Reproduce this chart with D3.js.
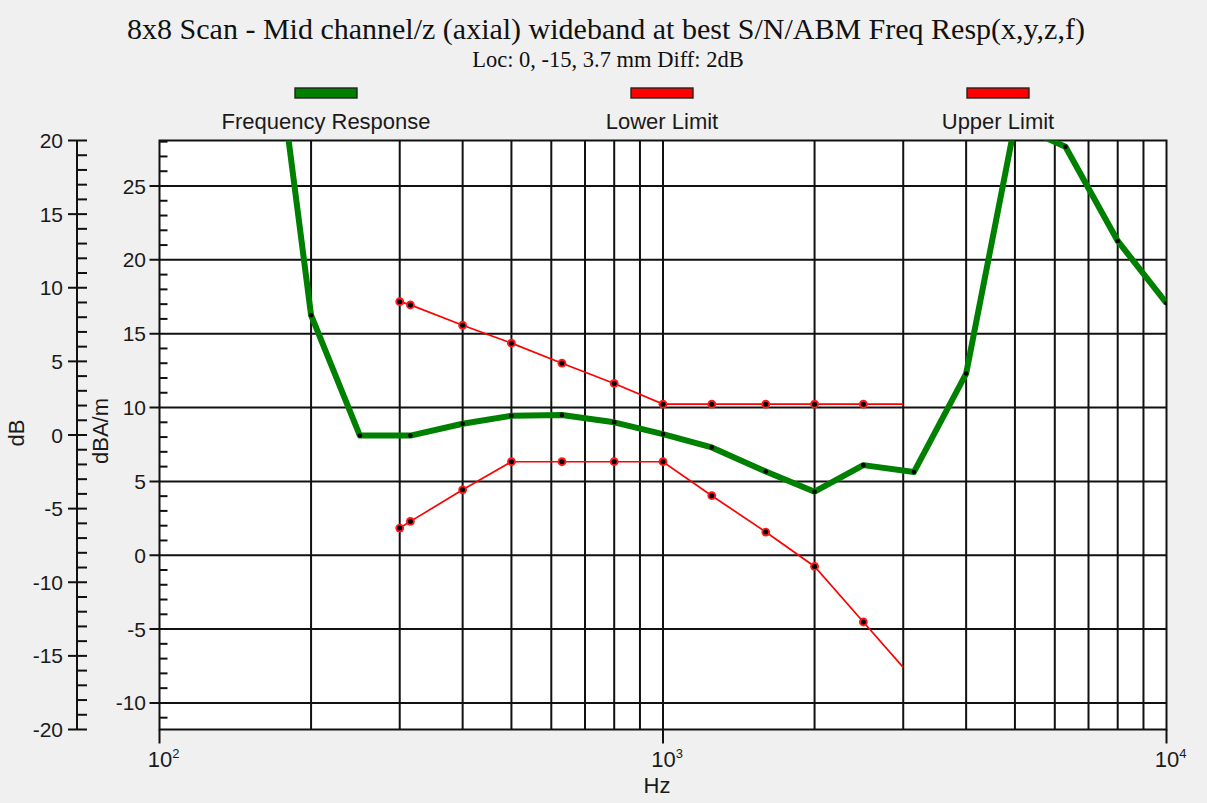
<!DOCTYPE html>
<html><head><meta charset="utf-8">
<script src="https://cdn.jsdelivr.net/npm/d3@7"></script>
<style>
html,body{margin:0;padding:0;background:#f0f0f0;}
svg{display:block;}
</style></head>
<body>
<svg id="chart" width="1207" height="803"></svg>
<script>
// ---- data ----
const titleText = "8x8 Scan - Mid channel/z (axial) wideband at best S/N/ABM Freq Resp(x,y,z,f)";
const subtitleText = "Loc: 0, -15, 3.7 mm Diff: 2dB";
const seriesNames = ["Frequency Response", "Lower Limit", "Upper Limit"];

const respFreq = [160, 200, 250, 315, 400, 500, 630, 800, 1000, 1250, 1600, 2000, 2500, 3150, 4000, 5000, 6300, 8000, 10000];
const respVals = [42, 16.25, 8.1, 8.1, 8.9, 9.44, 9.5, 9.0, 8.2, 7.3, 5.67, 4.3, 6.1, 5.63, 12.3, 29.2, 27.66, 21.28, 17.06];

const limitFreq = [300, 315, 400, 500, 630, 800, 1000, 1250, 1600, 2000, 2500, 3000];
const lowerVals = [1.84, 2.29, 4.43, 6.33, 6.33, 6.33, 6.33, 4.03, 1.57, -0.76, -4.52, -7.59];
const upperVals = [17.17, 16.95, 15.57, 14.36, 13.0, 11.63, 10.23, 10.23, 10.23, 10.23, 10.23, 10.23];

const xTickVals = [100, 1000, 10000];
const xTickExp = ["2", "3", "4"];
const innerTicks = [-10, -5, 0, 5, 10, 15, 20, 25];
const outerTicks = [-20, -15, -10, -5, 0, 5, 10, 15, 20];

// ---- layout ----
const L = 159.5, R = 1166.5, T = 140.5, B = 729.5;
const svg = d3.select("#chart");
const x = d3.scaleLog().domain([100, 10000]).range([L, R]);
const yIn = d3.scaleLinear().domain([-11.8, 28.08]).range([B, T]);
const yOut = d3.scaleLinear().domain([-20, 20]).range([B, T]);

const SANS = "'Liberation Sans', Arial, sans-serif";
const SERIF = "'Liberation Serif', 'Times New Roman', serif";
const txtCol = "#1a1a1a";

// title
svg.append("text").attr("x", 606).attr("y", 39).attr("text-anchor", "middle")
  .attr("font-family", SERIF).attr("font-size", 30).attr("fill", "#111").text(titleText);
svg.append("text").attr("x", 608).attr("y", 67).attr("text-anchor", "middle")
  .attr("font-family", SERIF).attr("font-size", 22.5).attr("fill", "#111").text(subtitleText);

// legend
const legColors = ["#008000", "#ff0000", "#ff0000"];
const legX = [326, 662, 998];
seriesNames.forEach((n, i) => {
  svg.append("rect").attr("x", legX[i] - 31).attr("y", 88).attr("width", 62).attr("height", 10)
    .attr("fill", legColors[i]).attr("stroke", "#222").attr("stroke-width", 1.4);
  svg.append("text").attr("x", legX[i]).attr("y", 129).attr("text-anchor", "middle")
    .attr("font-family", SANS).attr("font-size", 22).attr("fill", txtCol).text(n);
});

// plot background
svg.append("rect").attr("x", L).attr("y", T).attr("width", R - L).attr("height", B - T).attr("fill", "#fff");

// grid
const gridCol = "#111";
const GW = 2;
const gv = svg.append("g");
gv.selectAll("line.v").data(x.ticks().filter(d => d > 100 && d < 10000)).join("line")
  .attr("x1", d => x(d)).attr("x2", d => x(d)).attr("y1", T).attr("y2", B)
  .attr("stroke", gridCol).attr("stroke-width", GW);
gv.selectAll("line.h").data(innerTicks).join("line")
  .attr("x1", L - 10).attr("x2", R).attr("y1", d => yIn(d)).attr("y2", d => yIn(d))
  .attr("stroke", gridCol).attr("stroke-width", GW);

// frame
svg.append("rect").attr("x", L).attr("y", T).attr("width", R - L).attr("height", B - T)
  .attr("fill", "none").attr("stroke", gridCol).attr("stroke-width", GW);

// inner minor ticks
svg.append("g").selectAll("line").data(d3.range(-11, 29).filter(v => v % 5 !== 0)).join("line")
  .attr("x1", L).attr("x2", L + 8).attr("y1", d => yIn(d)).attr("y2", d => yIn(d))
  .attr("stroke", gridCol).attr("stroke-width", GW);
// inner labels
svg.append("g").selectAll("text").data(innerTicks).join("text")
  .attr("x", 146).attr("y", d => yIn(d)).attr("dy", "0.36em").attr("text-anchor", "end")
  .attr("font-family", SANS).attr("font-size", 21).attr("fill", txtCol).text(d => d);

// outer axis
const OX = 77;
svg.append("line").attr("x1", OX).attr("x2", OX).attr("y1", yOut(20)).attr("y2", yOut(-20))
  .attr("stroke", gridCol).attr("stroke-width", GW);
svg.append("g").selectAll("line").data(d3.range(-20, 21)).join("line")
  .attr("x1", d => d % 5 === 0 ? OX - 9 : OX).attr("x2", OX + 10)
  .attr("y1", d => yOut(d)).attr("y2", d => yOut(d))
  .attr("stroke", gridCol).attr("stroke-width", GW);
svg.append("g").selectAll("text").data(outerTicks).join("text")
  .attr("x", 63).attr("y", d => yOut(d)).attr("dy", "0.36em").attr("text-anchor", "end")
  .attr("font-family", SANS).attr("font-size", 21).attr("fill", txtCol).text(d => d);

// axis titles
svg.append("text").attr("transform", "translate(24,433) rotate(-90)").attr("text-anchor", "middle")
  .attr("font-family", SANS).attr("font-size", 22).attr("fill", txtCol).text("dB");
svg.append("text").attr("transform", "translate(108,431) rotate(-90)").attr("text-anchor", "middle")
  .attr("font-family", SANS).attr("font-size", 22).attr("fill", txtCol).text("dBA/m");

// x ticks
svg.append("g").selectAll("line").data(xTickVals).join("line")
  .attr("x1", d => x(d)).attr("x2", d => x(d)).attr("y1", B).attr("y2", B + 14)
  .attr("stroke", gridCol).attr("stroke-width", GW);
const xl = svg.append("g").selectAll("text").data(xTickVals).join("text")
  .attr("x", d => x(d) + 4).attr("y", 767).attr("text-anchor", "middle")
  .attr("font-family", SANS).attr("font-size", 22).attr("fill", txtCol);
xl.append("tspan").text("10");
xl.append("tspan").attr("dy", -9).attr("font-size", 13).text((d, i) => xTickExp[i]);
svg.append("text").attr("x", 657).attr("y", 793).attr("text-anchor", "middle")
  .attr("font-family", SANS).attr("font-size", 22).attr("fill", txtCol).text("Hz");

// clip
svg.append("clipPath").attr("id", "clip").append("rect")
  .attr("x", L).attr("y", T).attr("width", R - L).attr("height", B - T);
const plot = svg.append("g").attr("clip-path", "url(#clip)");

const line = d3.line().x(d => x(d[0])).y(d => yIn(d[1]));

// limits
[lowerVals, upperVals].forEach(vals => {
  const pts = limitFreq.map((f, i) => [f, vals[i]]);
  plot.append("path").datum(pts).attr("d", line).attr("fill", "none")
    .attr("stroke", "#ff0000").attr("stroke-width", 1.7);
  const mk = pts.slice(0, -1);
  plot.append("g").selectAll("circle").data(mk).join("circle")
    .attr("cx", d => x(d[0])).attr("cy", d => yIn(d[1])).attr("r", 4.4).attr("fill", "#ff1a1a");
  plot.append("g").selectAll("circle").data(mk).join("circle")
    .attr("cx", d => x(d[0])).attr("cy", d => yIn(d[1])).attr("r", 2.5).attr("fill", "#000");
});

// response
const rpts = respFreq.map((f, i) => [f, respVals[i]]);
plot.append("path").datum(rpts).attr("d", line).attr("fill", "none")
  .attr("stroke", "#008000").attr("stroke-width", 6).attr("stroke-linejoin", "round");
plot.append("g").selectAll("circle").data(rpts).join("circle")
  .attr("cx", d => x(d[0])).attr("cy", d => yIn(d[1])).attr("r", 2.3).attr("fill", "#000");
</script>
</body></html>
